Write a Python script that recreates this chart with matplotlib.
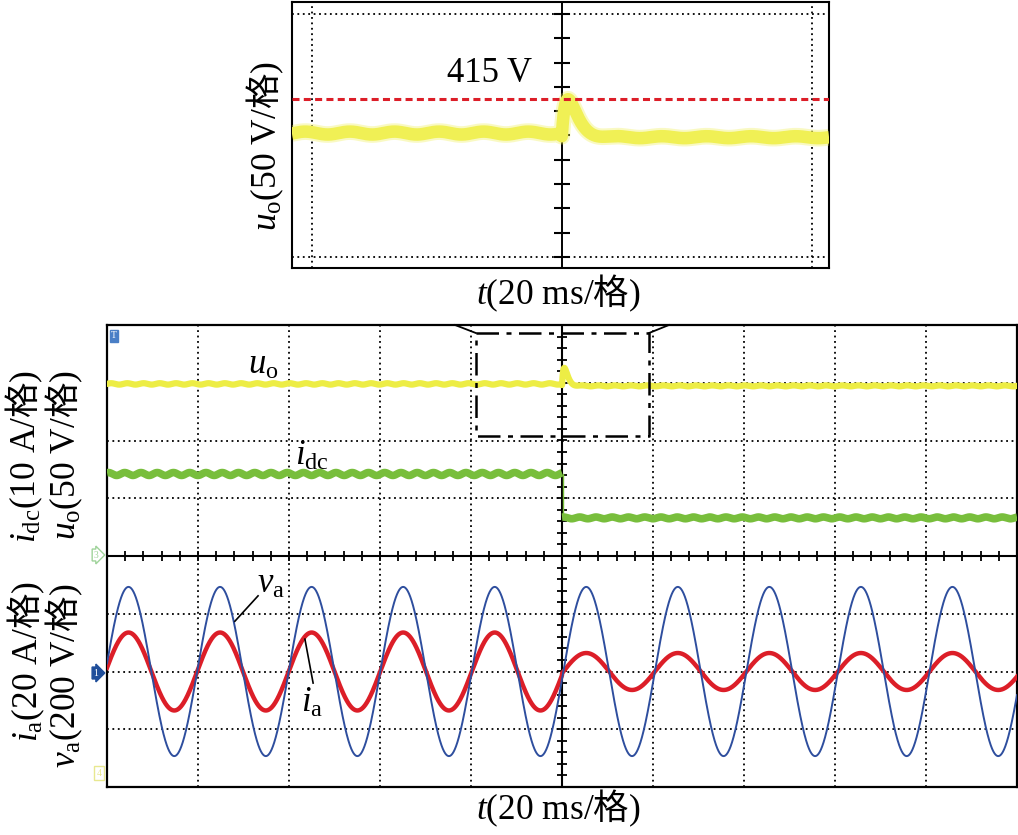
import numpy as np
import matplotlib
matplotlib.use("Agg")
import matplotlib.pyplot as plt

plt.rcParams.update({
    "font.family": ["Liberation Serif", "Noto Sans CJK SC"],
    "mathtext.fontset": "custom",
    "mathtext.rm": "Liberation Serif",
    "mathtext.it": "Liberation Serif:italic",
    "mathtext.sf": "Noto Sans CJK SC",
    "font.size": 25,
})

W, H = 1018, 835

# ── Waveform parameters ───────────────────────────────
F_GRID = 49.7          # Hz, grid frequency
PHASE_MS = 0.3         # ms, zero crossing of v_a near the step
VA_PEAK = 293.0        # V
IA_PEAK = [13.5, 6.4]  # A, before / after the load step
IDC_LEVEL = [14.2, 6.6]     # A, before / after
IDC_RIPPLE = [0.25, 0.15]   # A
UO_LEVEL = [401.0, 399.3]   # V, before / after
UO_RIPPLE = [0.6, 0.4]      # V
UO_OVERSHOOT = 15.3         # V
UO_PEAK_MS = 0.5            # ms
RIPPLE_HZ = 280.0
UO_REF = 415.0              # V, dashed reference

# scope channel settings: units per division, offset in divisions
UO_SCALE, UO_OFFS = 50.0, -5.04
IDC_SCALE, IDC_OFFS = 10.0, 0.0
VA_SCALE, VA_OFFS = 200.0, -2.0
IA_SCALE, IA_OFFS = 20.0, -2.0
MS_PER_DIV = 20.0

C_YEL = "#EDED45"
C_YEL_TOP = "#F0F055"
C_GRN = "#78BE3C"
C_RED = "#DC1E28"
C_BLU = "#2E4E9E"
DOT = (0, (1, 2))
LABEL_FS = 25.5


def step(t, pair):
    return np.where(t < 0, pair[0], pair[1])


def u_o(t):
    ts = np.clip(t, 0, None) / UO_PEAK_MS
    bump = UO_OVERSHOOT * ts * np.exp(1 - ts)
    rip = step(t, UO_RIPPLE) * np.sin(2 * np.pi * RIPPLE_HZ * t / 1000)
    return step(t, UO_LEVEL) + np.where(t >= 0, bump, 0) + rip


def i_dc(t):
    rip = step(t, IDC_RIPPLE) * np.sin(2 * np.pi * RIPPLE_HZ * t / 1000 + 1.0)
    return step(t, IDC_LEVEL) + rip


def phase(t):
    return np.sin(2 * np.pi * F_GRID * (t - PHASE_MS) / 1000)


def fx(px):
    return px / W


def fy(py):
    return 1 - py / H


fig = plt.figure(figsize=(W / 100, H / 100), dpi=100)
fig.patch.set_facecolor("white")

# ── Top panel: zoomed u_o ─────────────────────────────────────────────────────
ax1 = fig.add_axes([fx(292), fy(268), (829 - 292) / W, (268 - 2) / H])
ax1.set_xlim(-21.6, 21.4)
ax1.set_ylim(345.5, 454.9)
ax1.set_xticks([])
ax1.set_yticks([])
for s in ax1.spines.values():
    s.set_linewidth(1.5)

for x in (-20, 20):
    ax1.axvline(x, color="k", lw=1.3, ls=DOT, zorder=1)
for y in (350, 450):
    ax1.axhline(y, color="k", lw=1.3, ls=DOT, zorder=1)
ax1.axvline(0, color="k", lw=1.4, zorder=2)
ax1.plot(np.zeros(11), np.arange(350, 451, 10), ls="none", marker="_",
         ms=11, mew=1.5, color="k", zorder=2)

t1 = np.linspace(-22, 22, 5000)
ax1.plot(t1, u_o(t1), color=C_YEL_TOP, lw=12, alpha=0.35, zorder=3,
         solid_capstyle="butt")
ax1.plot(t1, u_o(t1), color=C_YEL_TOP, lw=9, zorder=3, solid_capstyle="butt")
ax1.axhline(UO_REF, color=C_RED, lw=2.2, ls=(0, (2.3, 1.4)), zorder=4)
ax1.text(-5.8, 425.3, "415 V", ha="center", va="center", fontsize=25)

fig.text(fx(265), fy(146), r"$u_\mathrm{o}$(50 V/$\mathsf{格}$)",
         rotation=90, ha="center", va="center", fontsize=LABEL_FS)
fig.text(fx(558), fy(293), r"$t$(20 ms/$\mathsf{格}$)",
         ha="center", va="center", fontsize=LABEL_FS)

# ── Bottom panel: full scope screen ───────────────────────────────────────────
ax2 = fig.add_axes([fx(107), fy(787), 910 / W, 462 / H])
ax2.set_xlim(-5 * MS_PER_DIV, 5 * MS_PER_DIV)
ax2.set_ylim(-4, 4)
ax2.set_xticks([])
ax2.set_yticks([])
for s in ax2.spines.values():
    s.set_linewidth(1.6)

for k in (-4, -3, -2, -1, 1, 2, 3, 4):
    ax2.axvline(k * MS_PER_DIV, color="k", lw=1.3, ls=DOT, zorder=1)
for k in (-3, -2, -1, 1, 2, 3):
    ax2.axhline(k, color="k", lw=1.3, ls=DOT, zorder=1)
ax2.axvline(0, color="k", lw=1.5, zorder=2)
ax2.axhline(0, color="k", lw=1.5, zorder=2)
ax2.plot(np.arange(-100, 101, 4), np.zeros(51), ls="none", marker="|",
         ms=7, mew=1.3, color="k", zorder=2)
ax2.plot(np.zeros(41), np.arange(-4, 4.01, 0.2), ls="none", marker="_",
         ms=7, mew=1.3, color="k", zorder=2)

t2 = np.linspace(-100, 100, 12000)
ax2.plot(t2, u_o(t2) / UO_SCALE + UO_OFFS, color=C_YEL, lw=4.5, zorder=3)
for seg in (t2 < 0, t2 >= 0):
    ts = t2[seg]
    ax2.plot(ts, i_dc(ts) / IDC_SCALE + IDC_OFFS, color=C_GRN, lw=5.5,
             zorder=3, solid_capstyle="butt")
ax2.plot([0.3, 0.3], np.array(IDC_LEVEL) / IDC_SCALE + IDC_OFFS, color=C_GRN,
         lw=1, zorder=3)
ax2.plot(t2, VA_PEAK * phase(t2) / VA_SCALE + VA_OFFS, color=C_BLU, lw=1.4,
         zorder=4)
ax2.plot(t2, step(t2, IA_PEAK) * phase(t2) / IA_SCALE + IA_OFFS, color=C_RED,
         lw=3.2, zorder=3)

# zoom window and connector
ax2.plot([-18.9, 19.1, 19.1, -18.9, -18.9], [3.86, 3.86, 2.08, 2.08, 3.86],
         color="k", lw=1.8, ls=(0, (9, 3, 2, 3)), zorder=5)
ax2.plot([-23.5, -18.9], [4.0, 3.86], color="k", lw=1.3, clip_on=False)
ax2.plot([19.1, 23.5], [3.86, 4.0], color="k", lw=1.3, clip_on=False)

# trace labels
ax2.text(-65.7, 3.3, r"$u_\mathrm{o}$", ha="center", va="center", fontsize=25)
ax2.text(-55.0, 1.72, r"$i_\mathrm{dc}$", ha="center", va="center", fontsize=25)
ax2.text(-64.0, -0.5, r"$v_\mathrm{a}$", ha="center", va="center", fontsize=25)
ax2.text(-55.0, -2.55, r"$i_\mathrm{a}$", ha="center", va="center", fontsize=25)
ax2.plot([-66.8, -71.9], [-0.69, -1.13], color="k", lw=1.2, zorder=6)
ax2.plot([-54.7, -56.5], [-2.2, -1.44], color="k", lw=1.2, zorder=6)

# channel tags
fig.text(fx(114), fy(336), "T", fontsize=7, color="white", ha="center",
         va="center", bbox=dict(boxstyle="square,pad=0.15", fc="#4A7FC6",
                                ec="#4A7FC6"))
fig.text(fx(96), fy(555), "3", fontsize=7, color="#9FD39A", ha="center",
         va="center", bbox=dict(boxstyle="rarrow,pad=0.15", fc="white",
                                ec="#9FD39A", lw=1))
fig.text(fx(96), fy(673), "1", fontsize=7, color="white", ha="center",
         va="center", bbox=dict(boxstyle="rarrow,pad=0.15", fc="#1F4E9A",
                                ec="#1F4E9A"))
fig.text(fx(99), fy(773), "4", fontsize=7, color="#E8E890", ha="center",
         va="center", bbox=dict(boxstyle="square,pad=0.25", fc="white",
                                ec="#E8E890", lw=1))

# channel scale labels
fig.text(fx(24), fy(456), r"$i_\mathrm{dc}$(10 A/$\mathsf{格}$)",
         rotation=90, ha="center", va="center", fontsize=LABEL_FS)
fig.text(fx(64), fy(455), r"$u_\mathrm{o}$(50 V/$\mathsf{格}$)",
         rotation=90, ha="center", va="center", fontsize=LABEL_FS)
fig.text(fx(26), fy(662), r"$i_\mathrm{a}$(20 A/$\mathsf{格}$)",
         rotation=90, ha="center", va="center", fontsize=LABEL_FS)
fig.text(fx(64), fy(676), r"$v_\mathrm{a}$(200 V/$\mathsf{格}$)",
         rotation=90, ha="center", va="center", fontsize=LABEL_FS)
fig.text(fx(558), fy(808), r"$t$(20 ms/$\mathsf{格}$)",
         ha="center", va="center", fontsize=LABEL_FS)

fig.savefig("out.png", dpi=100, facecolor="white")
